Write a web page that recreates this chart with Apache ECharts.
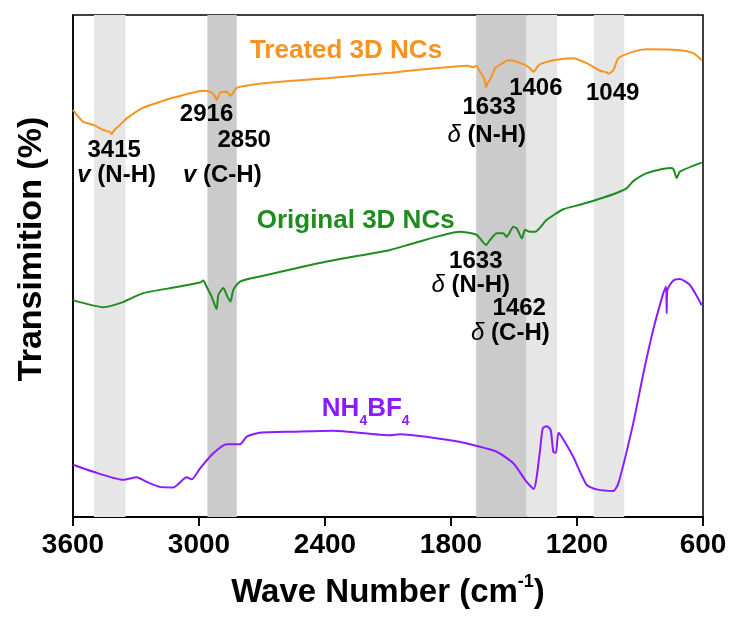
<!DOCTYPE html>
<html>
<head>
<meta charset="utf-8">
<script src="https://cdn.jsdelivr.net/npm/echarts@6/dist/echarts.min.js"></script>
<style>
  html, body { margin: 0; padding: 0; background: #fff; }
  #chart { width: 730px; height: 628px; }
</style>
</head>
<body>
<div id="chart"></div>
<script>
// FTIR spectra: wavenumber (cm^-1) and transmittance (arbitrary offset units)
const xTicks = [3600, 3000, 2400, 1800, 1200, 600];

const treatedWn = [3600, 3582, 3551, 3503, 3456, 3424, 3415, 3405, 3376, 3344, 3267, 3186, 3106, 2981, 2948, 2930, 2916, 2900, 2868, 2850, 2820, 2710, 2552, 2392, 2090, 1981, 1820, 1720, 1695, 1680, 1662, 1645, 1638, 1633, 1626, 1614, 1590, 1570, 1551, 1530, 1503, 1456, 1430, 1406, 1390, 1376, 1313, 1218, 1154, 1090, 1060, 1049, 1027, 1003, 932, 868, 710, 646, 606];
const treatedT  = [81.1, 80.1, 78.7, 78.1, 77.1, 76.7, 76.3, 77.0, 78.1, 79.4, 81.5, 82.7, 83.7, 84.9, 84.7, 84.2, 83.1, 84.5, 84.7, 83.9, 85.5, 86.3, 86.9, 87.4, 88.5, 89.0, 89.6, 89.9, 89.6, 89.9, 88.7, 87.6, 86.7, 85.6, 86.4, 87.1, 89.4, 90.0, 90.5, 91.0, 90.9, 90.2, 89.6, 88.7, 89.6, 90.2, 91.0, 91.4, 90.4, 88.9, 88.6, 88.3, 89.0, 91.4, 92.7, 93.2, 93.0, 92.4, 91.0];

const originalWn = [3600, 3456, 3376, 3265, 3106, 2995, 2980, 2963, 2940, 2916, 2908, 2884, 2865, 2850, 2837, 2805, 2710, 2392, 2090, 1980, 1757, 1678, 1633, 1614, 1582, 1551, 1535, 1503, 1487, 1462, 1448, 1424, 1400, 1344, 1265, 1186, 1027, 963, 932, 868, 757, 741, 725, 710, 606];
const originalT  = [43.2, 41.8, 42.6, 44.6, 45.8, 46.7, 47.1, 45.8, 43.9, 41.4, 44.2, 45.6, 43.9, 42.9, 45.2, 46.9, 47.9, 50.9, 53.2, 54.5, 56.8, 56.2, 54.2, 55.2, 56.5, 56.5, 55.8, 57.8, 57.5, 55.5, 57.2, 56.8, 56.8, 59.2, 61.3, 62.2, 64.3, 65.5, 66.9, 68.5, 69.5, 69.3, 67.5, 68.8, 70.6];

const nh4bf4Wn = [3600, 3503, 3360, 3297, 3249, 3186, 3122, 3059, 3035, 2995, 2932, 2868, 2805, 2773, 2710, 2551, 2360, 2090, 2043, 1789, 1662, 1582, 1503, 1440, 1405, 1392, 1376, 1363, 1344, 1325, 1313, 1300, 1289, 1273, 1218, 1154, 1106, 1027, 1003, 932, 884, 837, 789, 776, 773, 770, 741, 710, 662, 606];
const nh4bf4T  = [10.4, 9.0, 7.4, 7.9, 7.0, 6.0, 5.9, 7.9, 7.5, 9.7, 12.7, 14.5, 14.5, 16.0, 16.8, 17.0, 17.2, 16.3, 16.5, 15.2, 14.0, 13.0, 10.7, 7.0, 5.6, 8.0, 13.3, 17.7, 18.1, 17.3, 13.0, 12.8, 16.8, 16.0, 12.0, 6.4, 5.5, 5.2, 6.7, 18.7, 28.6, 37.3, 44.6, 45.9, 40.6, 45.2, 47.1, 47.4, 46.2, 42.2];

// Highlighted absorption regions (cm^-1)
const bandRanges = [[3500, 3350], [2960, 2820], [1680, 1440], [1440, 1295], [1120, 975]];
const bandShades = ['light', 'dark', 'dark', 'light', 'light'];

// Text annotations, anchored in data space
const seriesNotes = [
  { text: 'Treated 3D NCs', wn: 2300, t: 92.9, key: 'treated' },
  { text: 'Original 3D NCs', wn: 2254, t: 59.0, key: 'original' },
  { text: 'NH{sub|4}BF{sub|4}', wn: 2206, t: 21.5, key: 'nh4bf4' }
];
const peakNotes = [
  { text: '3415', wn: 3404, t: 73.0 },
  { text: '{v|v} (N-H)', wn: 3392, t: 68.1 },
  { text: '2916', wn: 2964, t: 80.3 },
  { text: '2850', wn: 2785, t: 75.1 },
  { text: '{v|v} (C-H)', wn: 2889, t: 68.1 },
  { text: '1633', wn: 1618, t: 81.5 },
  { text: '{d|δ} (N-H)', wn: 1630, t: 76.1 },
  { text: '1406', wn: 1396, t: 85.3 },
  { text: '1049', wn: 1030, t: 84.4 },
  { text: '1633', wn: 1682, t: 50.9 },
  { text: '{d|δ} (N-H)', wn: 1706, t: 46.2 },
  { text: '1462', wn: 1475, t: 41.6 },
  { text: '{d|δ} (C-H)', wn: 1517, t: 36.6 }
];

const FONT = '"Liberation Sans", Arial, sans-serif';
const COLORS = { treated: '#F7931E', original: '#1E8C1E', nh4bf4: '#8A1CFF' };
const SHADES = { light: '#E6E6E6', dark: '#CBCBCB' };

const zip = (xs, ys) => xs.map((x, i) => [x, ys[i]]);

const spectrum = (name, key, xs, ys) => ({
  type: 'line',
  name: name,
  data: zip(xs, ys),
  showSymbol: false,
  symbol: 'none',
  smooth: 0.2,
  z: 3,
  lineStyle: { color: COLORS[key], width: 2 },
  emphasis: { disabled: true },
  silent: true
});

const noteLabelBase = {
  show: true, position: 'inside', align: 'center', verticalAlign: 'middle',
  fontWeight: 'bold', fontFamily: FONT, opacity: 1
};

const chart = echarts.init(document.getElementById('chart'), null, { renderer: 'canvas' });

chart.setOption({
  animation: false,
  backgroundColor: '#fff',
  grid: { left: 73, right: 27, top: 15, bottom: 111, show: true, borderColor: '#000', borderWidth: 1.5, backgroundColor: 'transparent' },
  xAxis: {
    type: 'value', min: 600, max: 3600, interval: 600, inverse: true,
    name: 'Wave Number (cm{sup|-1})', nameLocation: 'middle', nameGap: 56,
    nameTextStyle: {
      fontSize: 33, fontWeight: 'bold', fontFamily: FONT, color: '#000', lineHeight: 40,
      rich: { sup: { fontSize: 18, fontWeight: 'bold', fontFamily: FONT, color: '#000', verticalAlign: 'top' } }
    },
    axisLine: { show: true, onZero: false, lineStyle: { color: '#000', width: 2 } },
    axisTick: { show: true, length: 9, customValues: xTicks, lineStyle: { color: '#000', width: 2 } },
    axisLabel: {
      fontSize: 28, fontWeight: 'bold', fontFamily: FONT, color: '#000', margin: 14,
      customValues: xTicks, formatter: v => String(v)
    },
    splitLine: { show: false }
  },
  yAxis: {
    type: 'value', min: 0, max: 100,
    name: 'Transimition (%)', nameLocation: 'middle', nameGap: 24,
    nameTextStyle: { fontSize: 34, fontWeight: 'bold', fontFamily: FONT, color: '#000', padding: [0, 0, 0, 34] },
    axisLine: { show: true, lineStyle: { color: '#000', width: 1.5 } },
    axisTick: { show: false }, axisLabel: { show: false }, splitLine: { show: false }
  },
  series: [
    {
      type: 'line', name: 'bands', data: [], z: 1, silent: true,
      markArea: {
        silent: true,
        data: bandRanges.map((r, i) => [
          { xAxis: r[0], itemStyle: { color: SHADES[bandShades[i]], opacity: 1 } },
          { xAxis: r[1] }
        ])
      }
    },
    spectrum('Treated 3D NCs', 'treated', treatedWn, treatedT),
    spectrum('Original 3D NCs', 'original', originalWn, originalT),
    spectrum('NH4BF4', 'nh4bf4', nh4bf4Wn, nh4bf4T),
    {
      type: 'scatter', name: 'series names', z: 5, silent: true, symbolSize: 0,
      itemStyle: { opacity: 1 },
      data: seriesNotes.map(n => ({
        value: [n.wn, n.t],
        label: { formatter: n.text, color: COLORS[n.key] }
      })),
      label: Object.assign({}, noteLabelBase, {
        fontSize: 26, lineHeight: 38,
        rich: { sub: { fontSize: 14, fontWeight: 'bold', fontFamily: FONT, color: COLORS.nh4bf4, verticalAlign: 'bottom' } }
      })
    },
    {
      type: 'scatter', name: 'peak labels', z: 5, silent: true, symbolSize: 0,
      itemStyle: { opacity: 1 },
      data: peakNotes.map(n => ({ value: [n.wn, n.t], label: { formatter: n.text } })),
      label: Object.assign({}, noteLabelBase, {
        fontSize: 24, color: '#000',
        rich: {
          v: { fontSize: 24, fontWeight: 'bold', fontStyle: 'italic', fontFamily: FONT, color: '#000' },
          d: { fontSize: 24, fontWeight: 'normal', fontStyle: 'italic', fontFamily: FONT, color: '#000' }
        }
      })
    }
  ]
});
</script>
</body>
</html>
